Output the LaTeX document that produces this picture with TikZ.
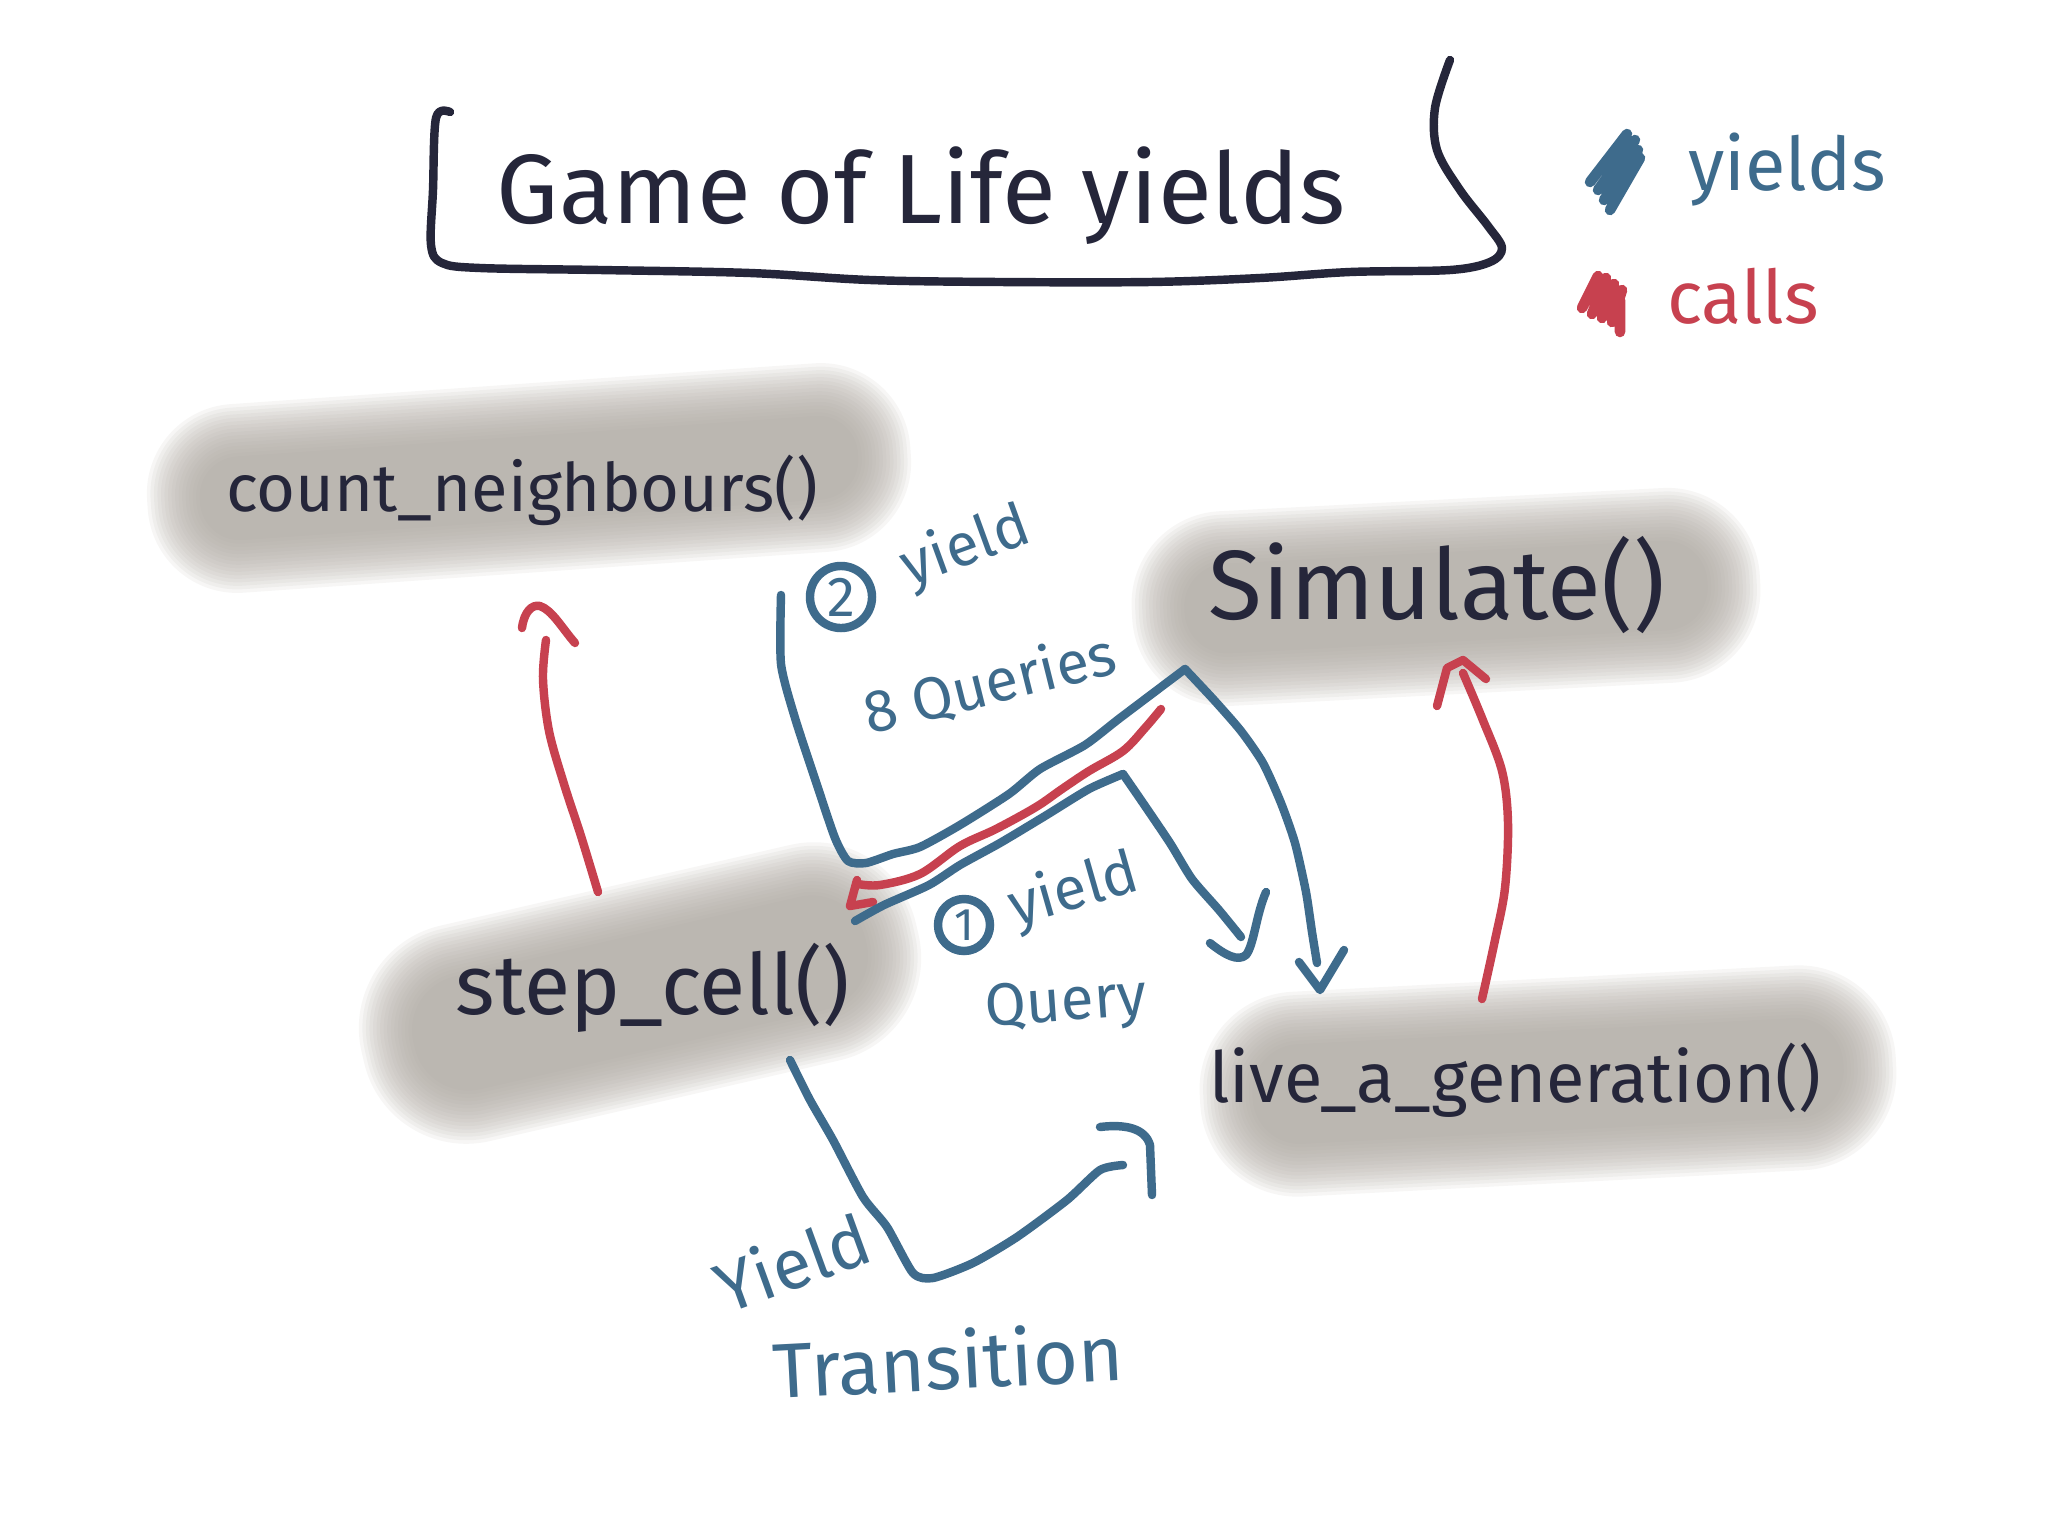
\documentclass[tikz,border=0pt]{standalone}
\usepackage{fontspec}
\setmainfont{Fira Sans}
\definecolor{ink}{HTML}{25263A}
\definecolor{yieldc}{HTML}{3E6B8C}
\definecolor{callc}{HTML}{C7414F}
\definecolor{shadowc}{HTML}{B2ACA5}
\tikzset{
  pen/.style={line width=2.4pt, line cap=round, line join=round},
  inkpen/.style={pen, draw=ink},
  yieldpen/.style={pen, draw=yieldc},
  callpen/.style={pen, draw=callc},
  fnlabel/.style={text=ink, inner sep=0pt},
  ylabel/.style={text=yieldc, inner sep=0pt},
  numcircle/.style={circle, draw=yieldc, line width=2.4pt, text=yieldc, inner sep=0pt},
  blobring/.style={fill=shadowc, opacity=0.1},
  smoothpath/.style={smooth, tension=0.55}
}
% soft shadow: centre x, centre y, core half width, core half height, angle
\newcommand\softblob[5]{%
  \begin{scope}[rotate around={#5:(#1,#2)}]
    \foreach \k in {0,...,15}{
      \pgfmathsetmacro\blobrc{(#4+\k*3.5)*0.27}
      \fill[blobring, rounded corners=\blobrc pt] (#1-#3-\k*3.5,#2-#4-\k*3.5) rectangle (#1+#3+\k*3.5,#2+#4+\k*3.5);
    }
  \end{scope}}
\begin{document}
\begin{tikzpicture}[x=0.01cm, y=-0.01cm]
\useasboundingbox (0,0) rectangle (2048,1536);
\fill[white] (0,0) rectangle (2048,1536);

% ---- shadows behind function names
\softblob{529}{478}{330}{42}{4}
\softblob{1446}{597}{262}{45}{3}
\softblob{640}{993}{232}{58}{13}
\softblob{1548}{1081}{296}{50}{3}

% ---- title and bracket
\node[fnlabel, font=\fontsize{28}{33}\selectfont] (title) at (921,196) {Game of Life yields};
\draw[inkpen] plot[smoothpath] coordinates {(450,112) (436,118) (433,190) (431,245) (442,263) (480,268) (600,270) (750,273) (870,280) (1000,282) (1150,282) (1260,278) (1350,272) (1450,270) (1490,262) (1502,248) (1488,226) (1460,190) (1437,150) (1435,108) (1450,60)};

% ---- legend
\draw[yieldpen, line width=3pt] (1590,182) -- (1627,134) (1598,190) -- (1635,140) (1604,200) -- (1638,150) (1610,210) -- (1640,158);
\node[ylabel, font=\fontsize{21}{25}\selectfont] (lyield) at (1787,170) {yields};
\draw[callpen, line width=3pt] (1582,308) -- (1598,276) (1592,314) -- (1606,278) (1602,318) -- (1614,284) (1612,322) -- (1622,290) (1620,300) -- (1620,332);
\node[text=callc, inner sep=0pt, font=\fontsize{21}{25}\selectfont] (lcall) at (1743,296) {calls};

% ---- function nodes
\node[fnlabel, font=\fontsize{19}{22}\selectfont] (cn) at (522,490) {count\_neighbours()};
\node[fnlabel, font=\fontsize{28}{32}\selectfont] (sim) at (1437,585) {Simulate()};
\node[fnlabel, font=\fontsize{24}{28}\selectfont] (step) at (653,988) {step\_cell()};
\node[fnlabel, font=\fontsize{20}{24}\selectfont] (live) at (1515,1080) {live\_a\_generation()};

% ---- yield labels
\node[numcircle, minimum size=0.62cm, font=\fontsize{16}{18}\selectfont] (n2) at (841,597) {2};
\node[ylabel, font=\fontsize{17}{20}\selectfont, rotate=20] (y2) at (966,548) {yield};
\node[ylabel, font=\fontsize{17}{20}\selectfont, rotate=14] (q8) at (990,684) {8 Queries};
\node[numcircle, minimum size=0.52cm, font=\fontsize{13}{16}\selectfont] (n1) at (964,925) {1};
\node[ylabel, font=\fontsize{17}{20}\selectfont, rotate=16] (y1) at (1074,892) {yield};
\node[ylabel, font=\fontsize{17}{20}\selectfont, rotate=4] (q1) at (1066,1006) {Query};
\node[ylabel, font=\fontsize{20}{24}\selectfont, rotate=20] (yt) at (792,1262) {Yield};
\node[ylabel, font=\fontsize{22}{26}\selectfont, rotate=3] (tr) at (948,1360) {Transition};

% ---- named connector ends
\coordinate (r1a) at (598,892);
\coordinate (r1b) at (546,640);
\coordinate (r2a) at (1482,999);
\coordinate (r2b) at (1463,673);
\coordinate (r3a) at (1161,709);
\coordinate (r3b) at (858,884);
\coordinate (baS) at (781,595);
\coordinate (baE) at (1317,963);
\coordinate (bbS) at (855,921);
\coordinate (bbE) at (1241,937);
\coordinate (bcS) at (790,1060);
\coordinate (bcE) at (1123,1165);

% ---- calls (red)
\draw[callpen] plot[smoothpath] coordinates {(r1a) (581,836) (564,784) (549,731) (543,679) (r1b)};
\draw[callpen] (522,628) .. controls (524,612) and (532,604) .. (540,606) .. controls (552,610) and (562,628) .. (575,643);
\draw[callpen] plot[smoothpath] coordinates {(r2a) (1495,940) (1505,888) (1508,823) (1502,771) (1482,718) (r2b)};
\draw[callpen] (1437,706) -- (1447,668) -- (1463,660) -- (1486,679);
\draw[callpen] plot[smoothpath] coordinates {(r3a) (1145,728) (1123,751) (1089,771) (1062,789) (1036,807) (996,829) (960,846) (920,874) (880,885) (r3b)};
\draw[callpen] (857,880) -- (850,906) -- (873,902);

% ---- yields (blue)
\draw[yieldpen] plot[smooth, tension=0.4] coordinates {(baS) (781,664) (795,718) (817,785) (835,838) (848,861) (866,863) (893,854) (920,847) (960,825) (1009,794) (1040,769) (1085,745) (1120,718) (1185,669)};
\draw[yieldpen] plot[smooth, tension=0.4] coordinates {(1185,669) (1214,700) (1241,731) (1263,763) (1281,803) (1295,843) (1306,892) (1312,932) (baE)};
\draw[yieldpen] (1299,962) -- (1320,990) -- (1344,950);
\draw[yieldpen] plot[smooth, tension=0.4] coordinates {(bbS) (884,905) (929,885) (960,865) (1000,843) (1045,816) (1089,789) (1123,774)};
\draw[yieldpen] plot[smooth, tension=0.4] coordinates {(1123,774) (1143,803) (1170,843) (1192,879) (1219,910) (bbE)};
\draw[yieldpen] (1210,943) .. controls (1225,955) and (1238,962) .. (1246,955) .. controls (1254,945) and (1256,915) .. (1266,892);
\draw[yieldpen] plot[smooth, tension=0.4] coordinates {(bcS) (810,1100) (833,1140) (863,1197) (887,1227) (913,1273) (933,1278) (973,1263) (1017,1237) (1067,1200) (1100,1170) (bcE)};
\draw[yieldpen] (1100,1127) .. controls (1125,1124) and (1145,1128) .. (1150,1145) -- (1152,1195);
\end{tikzpicture}
\end{document}
